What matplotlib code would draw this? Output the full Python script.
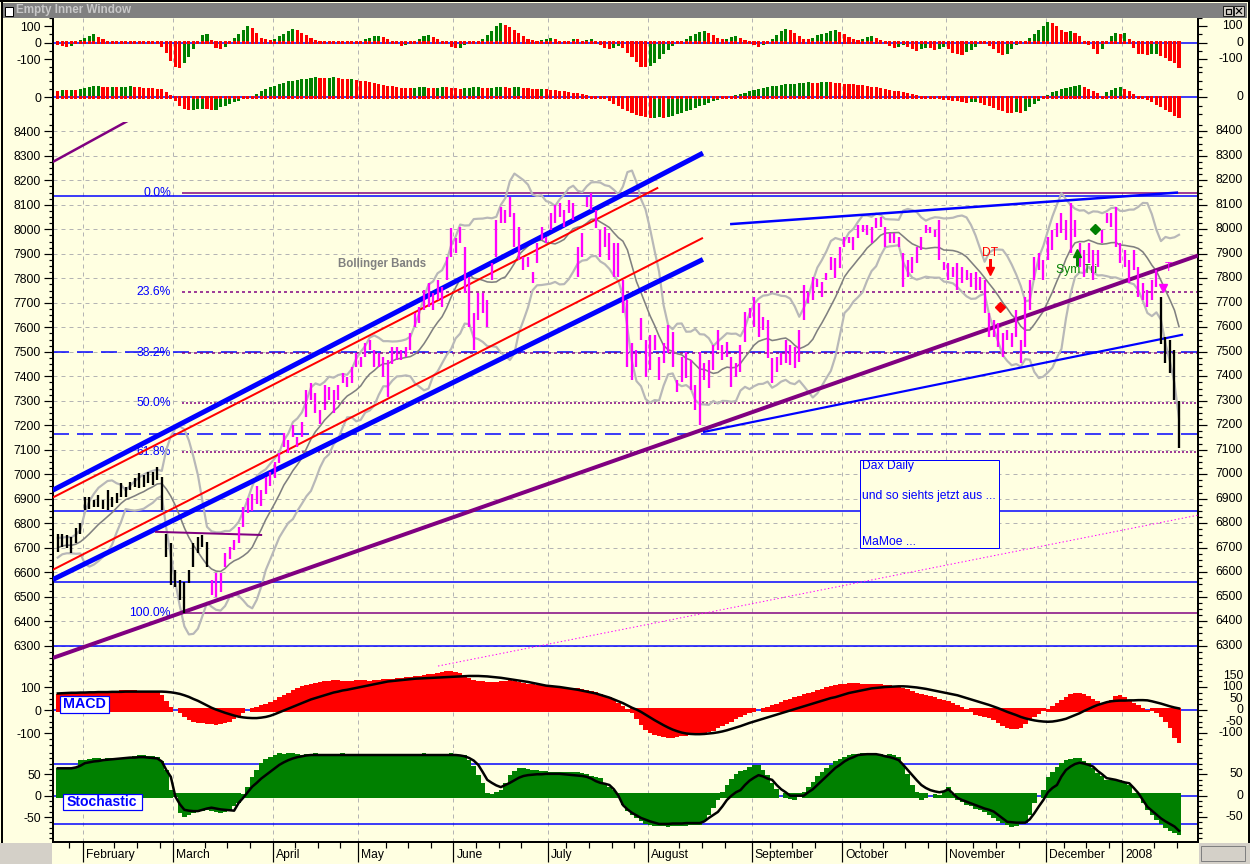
import numpy as np
import pandas as pd
import matplotlib
matplotlib.use("Agg")
import matplotlib.pyplot as plt
import matplotlib.transforms as mtrans
from matplotlib.patches import Rectangle

plt.rcParams['font.family'] = ['Liberation Sans', 'DejaVu Sans']
plt.rcParams['lines.scale_dashes'] = False

# ---------------- data ----------------
month_starts = [6, 26, 48, 67, 88, 109, 131, 154, 174, 197, 219, 236]
month_names = ["February", "March", "April", "May", "June", "July", "August",
               "September", "October", "November", "December", "2008"]

# mid prices of the days before the first visible bar (band warm-up)
jan_warmup = [6660, 6690, 6720, 6700, 6680, 6730, 6710, 6690, 6700]

hi = [6758, 6758, 6752, 6745, 6779, 6799, 6908, 6908, 6895, 6915,
      6895, 6935, 6908, 6922, 6963, 6949, 6970, 6983, 7004, 6997,
      7010, 7010, 7031, 6990, 6758, 6718, 6609, 6568, 6561, 6609,
      6718, 6745, 6752, 6725, 6568, 6595, 6595, 6677, 6704, 6731,
      6786, 6867, 6901, 6920, 6950, 6935, 6990, 7010, 7051, 7085,
      7167, 7139, 7201, 7153, 7214, 7344, 7371, 7330, 7262, 7364,
      7357, 7344, 7364, 7412, 7398, 7439, 7493, 7480, 7534, 7548,
      7507, 7493, 7480, 7466, 7521, 7521, 7507, 7521, 7575, 7657,
      7684, 7752, 7779, 7738, 7793, 7765, 7888, 8004, 7963, 8010,
      7929, 7806, 7657, 7738, 7738, 7711, 7861, 8038, 8092, 8078,
      8133, 8065, 8010, 7888, 7888, 7827, 7942, 8010, 7970, 8065,
      8099, 8106, 8078, 8119, 8106, 7929, 7983, 8133, 8147, 8078,
      7997, 8010, 7983, 7942, 7942, 7793, 7711, 7534, 7507, 7636,
      7548, 7568, 7568, 7480, 7534, 7609, 7582, 7384, 7480, 7500,
      7466, 7364, 7500, 7453, 7466, 7527, 7589, 7527, 7541, 7480,
      7453, 7527, 7664, 7677, 7725, 7698, 7643, 7630, 7473, 7480,
      7493, 7548, 7527, 7521, 7589, 7772, 7745, 7806, 7796, 7786,
      7820, 7888, 7881, 7929, 7970, 7970, 7970, 8017, 8017, 8017,
      8011, 8045, 8051, 8011, 7983, 7983, 7970, 7902, 7874, 7888,
      7929, 7970, 8017, 8011, 7997, 8038, 7868, 7861, 7847, 7861,
      7847, 7834, 7820, 7827, 7806, 7793, 7657, 7630, 7616, 7575,
      7589, 7575, 7670, 7548, 7725, 7793, 7888, 7902, 7874, 7970,
      7997, 8024, 8065, 8038, 8106, 8038, 7943, 7915, 7943, 7915,
      7915, 7997, 8065, 8065, 8092, 7943, 7915, 7874, 7915, 7847,
      7779, 7752, 7793, 7834, 7725, 7560, 7548, 7507, 7300]

lo = [6684, 6704, 6697, 6677, 6718, 6758, 6854, 6860, 6867, 6867,
      6860, 6854, 6867, 6881, 6908, 6908, 6935, 6949, 6942, 6949,
      6963, 6956, 6976, 6854, 6663, 6548, 6541, 6486, 6432, 6554,
      6622, 6677, 6704, 6622, 6507, 6500, 6520, 6622, 6656, 6690,
      6718, 6786, 6840, 6850, 6880, 6870, 6920, 6950, 6983, 7044,
      7112, 7085, 7153, 7112, 7153, 7235, 7303, 7248, 7207, 7262,
      7303, 7248, 7303, 7371, 7357, 7371, 7439, 7439, 7480, 7507,
      7439, 7439, 7398, 7316, 7452, 7466, 7466, 7480, 7507, 7602,
      7616, 7670, 7684, 7670, 7711, 7684, 7793, 7888, 7902, 7942,
      7738, 7602, 7507, 7629, 7657, 7602, 7793, 7888, 8024, 8024,
      8051, 7929, 7874, 7834, 7847, 7779, 7861, 7956, 7942, 7997,
      8024, 8051, 8010, 8065, 8038, 7806, 7888, 8092, 8078, 8004,
      7888, 7929, 7874, 7806, 7806, 7657, 7439, 7384, 7439, 7548,
      7398, 7425, 7507, 7384, 7453, 7493, 7439, 7337, 7378, 7391,
      7344, 7262, 7201, 7384, 7351, 7425, 7507, 7466, 7480, 7357,
      7398, 7418, 7541, 7636, 7602, 7562, 7589, 7473, 7371, 7418,
      7446, 7453, 7446, 7432, 7460, 7630, 7698, 7711, 7766, 7725,
      7793, 7834, 7800, 7841, 7929, 7943, 7915, 7963, 7990, 7977,
      7943, 8004, 8011, 7929, 7943, 7943, 7929, 7766, 7806, 7820,
      7861, 7915, 7983, 7983, 7970, 7874, 7834, 7793, 7806, 7752,
      7779, 7793, 7766, 7752, 7752, 7657, 7561, 7561, 7521, 7480,
      7548, 7521, 7561, 7453, 7521, 7670, 7793, 7834, 7793, 7874,
      7915, 7970, 7983, 7956, 7902, 7970, 7847, 7806, 7861, 7793,
      7847, 7943, 8024, 8011, 7929, 7861, 7847, 7779, 7834, 7725,
      7711, 7684, 7711, 7766, 7530, 7453, 7412, 7303, 7106]

osc_fast = [-15, -20, -25, -20, -10, 14, 28, 38, 50, 35,
            20, 5, -3, 4, -8, -10, 8, 12, 10, 6,
            -4, -2, 3, -25, -64, -110, -150, -156, -125, -90,
            -40, 10, 45, 50, 15, -30, -36, -25, 5, 30,
            55, 80, 104, 90, 60, 30, 25, 18, 22, 40,
            55, 70, 84, 75, 60, 45, 30, 15, 5, -5,
            -10, -8, 0, -5, -10, -5, 5, 10, 20, 30,
            38, 42, 35, 20, 5, -10, -20, -15, -5, 10,
            25, 40, 45, 35, 20, 5, -10, -25, -35, -30,
            -15, 0, 10, 5, 20, 45, 70, 100, 120, 110,
            95, 80, 60, 40, 25, 15, 10, 15, 25, 30,
            20, 5, -5, 10, 25, 20, 5, 15, 20, 5,
            -15, -30, -40, -30, -20, -35, -60, -90, -120, -145,
            -150, -140, -125, -100, -70, -45, -20, -5, 10, 25,
            40, 55, 65, 70, 60, 45, 30, 20, 25, 35,
            40, 30, 15, 0, -15, -25, -15, 0, 20, 45,
            70, 85, 80, 60, 40, 25, 20, 30, 45, 55,
            60, 70, 75, 65, 50, 35, 20, 15, 25, 35,
            40, 30, 15, -5, -20, -30, -25, -15, -25, -40,
            -50, -40, -30, -35, -45, -40, -25, -40, -60, -70,
            -76, -55, -45, -25, -10, -3, -20, -40, -60, -76,
            -70, -40, -15, 5, 10, 30, 55, 80, 104, 128,
            120, 104, 80, 64, 70, 60, 40, 10, -15, -40,
            -66, -40, 10, 40, 60, 55, 60, 20, -30, -66,
            -70, -76, -70, -66, -80, -94, -110, -124, -154]

osc_slow = [40, 44, 42, 46, 44, 48, 55, 60, 66, 68,
            64, 62, 63, 60, 62, 64, 66, 62, 60, 58,
            56, 54, 52, 50, 30, 14, -20, -50, -70, -76,
            -74, -72, -70, -72, -76, -74, -60, -50, -40, -30,
            -20, -10, -5, 5, 20, 35, 50, 60, 70, 80,
            88, 95, 100, 104, 108, 112, 116, 120, 118, 115,
            118, 120, 116, 112, 108, 110, 104, 100, 95, 90,
            85, 80, 75, 70, 65, 60, 58, 55, 55, 58,
            60, 62, 58, 55, 58, 62, 60, 58, 55, 52,
            55, 58, 60, 62, 58, 55, 58, 60, 62, 60,
            58, 60, 62, 58, 55, 52, 50, 52, 48, 45,
            42, 40, 36, 32, 28, 25, 20, 15, 10, 5,
            0, -10, -25, -40, -55, -70, -85, -95, -105, -115,
            -120, -125, -122, -118, -125, -120, -110, -100, -95, -85,
            -75, -65, -55, -45, -35, -25, -15, -8, -2, 5,
            12, 20, 28, 35, 42, 48, 55, 60, 65, 70,
            75, 78, 80, 82, 85, 88, 90, 88, 86, 90,
            92, 90, 86, 84, 82, 80, 78, 75, 72, 68,
            64, 60, 55, 50, 45, 40, 35, 30, 25, 20,
            15, 10, 5, 0, -5, -10, -15, -16, -20, -25,
            -30, -34, -30, -28, -34, -45, -55, -65, -75, -85,
            -92, -96, -90, -96, -80, -60, -40, -20, 0, 15,
            30, 40, 48, 55, 62, 68, 74, 62, 50, 38,
            25, 10, 30, 45, 55, 60, 50, 35, 20, 8,
            0, -15, -30, -45, -60, -75, -90, -110, -126]

macd_hist = [70, 72, 74, 75, 73, 72, 74, 76, 78, 80,
             78, 80, 82, 84, 85, 86, 87, 86, 84, 82,
             80, 78, 80, 65, 40, 15, 0, -15, -30, -42,
             -50, -55, -58, -60, -62, -63, -62, -58, -50, -38,
             -25, -12, 0, 8, 15, 22, 28, 35, 45, 55,
             65, 75, 85, 95, 105, 110, 115, 118, 122, 126,
             128, 130, 130, 128, 126, 128, 130, 132, 130, 128,
             130, 132, 134, 135, 136, 138, 140, 142, 145, 148,
             150, 152, 155, 158, 160, 165, 168, 170, 166, 160,
             150, 140, 132, 128, 125, 122, 120, 122, 125, 128,
             130, 126, 122, 118, 115, 112, 110, 108, 106, 104,
             102, 100, 98, 96, 95, 94, 92, 88, 84, 78,
             70, 62, 55, 45, 32, 18, 5, -15, -40, -65,
             -85, -100, -110, -115, -118, -120, -120, -118, -115, -112,
             -110, -108, -105, -100, -95, -90, -80, -70, -60, -50,
             -40, -30, -22, -15, -8, 0, 8, 14, 20, 28,
             35, 42, 48, 55, 62, 68, 74, 80, 86, 92,
             98, 104, 108, 112, 115, 117, 118, 116, 114, 112,
             112, 114, 112, 110, 108, 105, 100, 95, 90, 82,
             75, 70, 65, 60, 55, 50, 45, 40, 32, 22,
             15, 5, -10, -20, -28, -32, -35, -45, -55, -68,
             -80, -84, -84, -78, -60, -45, -30, -18, -5, 5,
             18, 32, 45, 58, 68, 73, 75, 70, 60, 50,
             40, 32, 30, 45, 62, 65, 58, 45, 30, 20,
             10, 2, -5, -15, -30, -50, -80, -120, -142]

macd_sig = [72, 73, 74, 75, 75, 76, 76, 77, 77, 78,
            78, 78, 79, 79, 79, 80, 80, 80, 80, 80,
            80, 80, 80, 80, 79, 77, 74, 70, 64, 57,
            48, 40, 30, 20, 10, 2, -5, -12, -18, -24,
            -29, -32, -34, -35, -35, -33, -30, -25, -18, -10,
            -2, 6, 14, 22, 30, 38, 46, 52, 58, 64,
            70, 76, 80, 85, 88, 92, 96, 100, 104, 108,
            112, 116, 120, 124, 126, 128, 130, 132, 134, 136,
            137, 138, 139, 140, 141, 142, 143, 144, 145, 146,
            147, 148, 148, 148, 147, 146, 144, 142, 140, 137,
            134, 131, 128, 125, 122, 118, 114, 110, 106, 104,
            102, 100, 97, 94, 91, 88, 84, 80, 76, 72,
            66, 60, 54, 46, 38, 30, 20, 10, 2, -8,
            -20, -32, -44, -55, -66, -76, -85, -92, -98, -102,
            -104, -105, -105, -104, -102, -100, -97, -93, -88, -82,
            -76, -70, -63, -56, -50, -44, -38, -32, -26, -20,
            -14, -8, -2, 4, 10, 16, 22, 28, 34, 40,
            46, 52, 56, 62, 68, 74, 78, 82, 86, 90,
            94, 96, 98, 100, 101, 102, 103, 103, 102, 100,
            98, 95, 92, 88, 84, 80, 76, 72, 68, 64,
            58, 52, 46, 40, 34, 28, 22, 15, 8, 0,
            -8, -15, -22, -30, -36, -41, -45, -48, -50, -51,
            -50, -47, -43, -38, -30, -22, -14, -4, 5, 14,
            22, 28, 34, 38, 40, 41, 41, 42, 42, 43,
            43, 42, 38, 33, 28, 22, 16, 11, 7]

stoch_hist = [64, 64, 65, 64, 66, 83, 84, 86, 87, 87,
              86, 87, 88, 87, 87, 88, 90, 92, 95, 94,
              93, 92, 91, 80, 60, 13, -3, -41, -49, -45,
              -40, -37, -35, -33, -35, -38, -41, -38, -33, -25,
              -17, 5, 21, 44, 60, 76, 85, 91, 95, 99,
              98, 99, 100, 98, 96, 97, 98, 99, 97, 96,
              95, 97, 98, 99, 97, 95, 96, 97, 98, 96,
              95, 97, 96, 94, 95, 97, 98, 96, 95, 97,
              98, 99, 97, 96, 95, 97, 98, 99, 97, 96,
              95, 83, 70, 48, 30, 6, 4, 8, 13, 30,
              48, 58, 65, 64, 62, 61, 60, 58, 57, 56,
              56, 55, 55, 55, 55, 55, 53, 50, 47, 44,
              41, 30, 20, 13, -5, -22, -35, -45, -52, -60,
              -65, -68, -70, -71, -71, -72, -71, -71, -70, -70,
              -69, -68, -68, -58, -45, -28, -10, 8, 25, 40,
              50, 58, 60, 66, 72, 72, 60, 48, 30, 15,
              0, -5, -8, -10, -2, 8, 20, 32, 45, 55,
              65, 72, 80, 85, 90, 95, 97, 98, 99, 100,
              99, 98, 97, 96, 97, 96, 90, 72, 50, 25,
              8, -10, -5, 0, 5, 2, 10, 21, 5, -10,
              -15, -21, -25, -30, -33, -38, -45, -52, -58, -64,
              -68, -72, -70, -67, -64, -45, -17, 0, 13, 44,
              56, 68, 76, 83, 86, 87, 87, 82, 76, 64,
              52, 45, 37, 37, 37, 37, 30, 25, 6, -5,
              -17, -33, -45, -57, -66, -76, -82, -88, -91]

stoch_sig = [64, 64, 64, 64, 66, 70, 76, 78, 80, 81,
             83, 84, 85, 86, 87, 88, 89, 89, 90, 90,
             89, 88, 87, 80, 60, 44, -2, -20, -33, -35,
             -36, -36, -33, -30, -28, -30, -32, -33, -34, -35,
             -17, -5, 8, 21, 30, 40, 48, 56, 64, 72,
             78, 83, 87, 90, 92, 94, 95, 95, 95, 95,
             95, 95, 95, 95, 95, 95, 95, 95, 95, 95,
             95, 95, 95, 95, 95, 95, 95, 95, 95, 95,
             95, 95, 95, 95, 95, 95, 95, 95, 95, 94,
             92, 88, 82, 72, 55, 37, 30, 24, 20, 25,
             30, 36, 42, 46, 48, 49, 50, 50, 51, 51,
             51, 51, 50, 49, 48, 47, 46, 44, 40, 34,
             30, 28, 25, 15, 0, -22, -32, -40, -46, -52,
             -56, -60, -63, -66, -66, -66, -65, -65, -65, -64,
             -64, -64, -64, -60, -52, -45, -38, -25, -10, 0,
             8, 13, 25, 35, 42, 48, 45, 40, 37, 25,
             15, 8, 0, 0, 0, 0, 8, 15, 25, 35,
             45, 55, 65, 72, 80, 86, 90, 95, 96, 97,
             97, 97, 95, 92, 90, 87, 83, 72, 60, 48,
             36, 25, 18, 13, 10, 8, 10, 15, 5, -5,
             -10, -14, -18, -22, -26, -30, -33, -37, -45, -53,
             -61, -62, -63, -63, -63, -55, -41, -25, -10, 8,
             18, 25, 45, 60, 68, 74, 77, 75, 72, 68,
             58, 50, 41, 39, 37, 34, 31, 29, 18, 6,
             -10, -26, -35, -44, -53, -60, -66, -72, -82]

N = len(hi)
for s in (lo, osc_fast, osc_slow, macd_hist, macd_sig, stoch_hist, stoch_sig):
    assert len(s) == N, len(s)

# retracement between the July high and the March low
fib_high, fib_low = 8150, 6433
fib_levels = [0.0, 23.6, 38.2, 50.0, 61.8, 100.0]
fib_start = 27.5
blue_levels = [8135, 6850, 6559, 6300]
blue_dash_levels = [7500, 7163]
stoch_bounds = [73.4, -66.8]

# drawn trend lines: (bar0, price0, bar1, price1, colour, width px, style)
trend_lines = [
    (-1.1, 6935, 142.7, 8311, '#0000ff', 5.0, '-'),
    (-1.1, 6570, 142.7, 7877, '#0000ff', 5.0, '-'),
    (-1.1, 6905, 132.8, 8170, '#ff0000', 2.0, '-'),
    (-1.1, 6610, 142.7, 7965, '#ff0000', 2.0, '-'),
    (-1.1, 6250, 252.2, 7893, '#800080', 4.0, '-'),
    (-1.1, 8275, 18.2, 8470, '#800080', 2.5, '-'),
    (142.7, 7172, 248.9, 7570, '#0000ff', 2.2, '-'),
    (148.7, 8021, 247.8, 8150, '#0000ff', 2.5, '-'),
    (84.1, 6217, 252.2, 6833, '#ff00ff', 1.0, ':'),
    (21.5, 6765, 45.2, 6752, '#800080', 2.0, '-'),
]

# ---------------- figure ----------------
W, H, DPI = 1250, 864, 100
X0, X1 = 53, 1198
XL = (-1.06, 252.2)
BG = '#ffffe1'
BLUE, RED, GREEN, PURPLE = '#0000ff', '#ff0000', '#008000', '#800080'
GRIDC = '#b4b4b4'
FS = 8.7


def pt(px):
    return px * 72 / DPI


fig = plt.figure(figsize=(W / DPI, H / DPI), dpi=DPI)
fig.patch.set_facecolor(BG)
x = np.arange(N)


def panel(top, bottom, ylim):
    ax = fig.add_axes([X0 / W, 1 - bottom / H, (X1 - X0) / W, (bottom - top) / H])
    ax.set_facecolor(BG)
    ax.set_xlim(*XL)
    ax.set_ylim(*ylim)
    for s in ('top', 'bottom'):
        ax.spines[s].set_visible(False)
    for s in ('left', 'right'):
        ax.spines[s].set_linewidth(pt(2))
    ax.set_xticks([])
    ax.tick_params(axis='y', which='both', left=True, right=True, direction='out',
                   width=pt(1.2), labelsize=FS, pad=pt(3))
    ax.tick_params(axis='y', which='major', length=pt(9))
    ax.tick_params(axis='y', which='minor', length=pt(4))
    for m in month_starts:
        ax.axvline(m - 0.5, color=GRIDC, lw=pt(1), ls=(0, (pt(4), pt(4))), zorder=0)
    return ax


def label_axis(ax, left, right, minor):
    ax.set_yticks(left)
    ax.set_yticklabels([str(v) for v in left])
    ax.set_yticks(minor, minor=True)
    tr = mtrans.blended_transform_factory(fig.transFigure, ax.transData)
    for v in right:
        ax.text(1243 / W, v, str(v), transform=tr, ha='right', va='center', fontsize=FS)


def updown(vals):
    v = np.asarray(vals, dtype=float)
    return np.where(np.diff(v, prepend=v[0] + 1) > 0, GREEN, RED)


# --- two oscillator strips on top
ax1 = panel(18, 70, (-166, 145))
ax2 = panel(70, 122, (-148, 163))
for ax, vals in ((ax1, osc_fast), (ax2, osc_slow)):
    ax.axhline(0, color=BLUE, lw=pt(1.5), zorder=1)
    ax.bar(x, vals, width=0.68, color=updown(vals), lw=0, zorder=2)
    ax.bar(x, 18, bottom=-9, width=0.68, color=RED, lw=0, zorder=3)
label_axis(ax1, [100, 0, -100], [100, 0, -100], [150, 50, -50, -150])
label_axis(ax2, [0], [0], [150, 100, 50, -50, -100])

# --- price panel
axm = panel(122, 668, (6209, 8438))
label_axis(axm, list(range(6300, 8401, 100)), list(range(6300, 8401, 100)),
           list(np.arange(6225, 8438, 25)))
for v in range(6300, 8401, 100):
    axm.axhline(v, color=GRIDC, lw=pt(1), ls=(0, (pt(4), pt(4))), zorder=0)

for v in blue_levels:
    axm.axhline(v, color=BLUE, lw=pt(1.5), zorder=2)
for v in blue_dash_levels:
    axm.axhline(v, color=BLUE, lw=pt(1.5), ls=(0, (pt(16), pt(8))), zorder=2)

fib_styles = ['-', (0, (pt(3), pt(3))), (0, (pt(3), pt(3))),
              (0, (pt(2), pt(2))), (0, (pt(2), pt(2))), '-']
for lev, st in zip(fib_levels, fib_styles):
    y = fib_high - (fib_high - fib_low) * lev / 100
    axm.hlines(y, fib_start, XL[1], colors=PURPLE, lw=pt(1.5), linestyles=[st], zorder=2)
    axm.text(25.0, y, f"{lev:.1f}%", color=BLUE, ha='right', va='center', fontsize=FS, zorder=3)

# Bollinger bands (10 bars, 2 sd) on the bar mid price
mid = pd.Series(jan_warmup + list((np.array(hi) + np.array(lo)) / 2))
ma = mid.rolling(10).mean().to_numpy()[len(jan_warmup):]
sd = mid.rolling(10).std(ddof=0).to_numpy()[len(jan_warmup):]
axm.plot(x, ma + 2 * sd, color='#b8b8b8', lw=pt(2.2), zorder=3)
axm.plot(x, ma - 2 * sd, color='#b8b8b8', lw=pt(2.2), zorder=3)
axm.plot(x, ma, color='#808080', lw=pt(1.6), zorder=3)

for x0, y0, x1, y1, c, w, st in trend_lines:
    axm.plot([x0, x1], [y0, y1], color=c, lw=pt(w), ls=st, solid_capstyle='butt', zorder=4)

bar_col = ['black' if (i < 34 or i >= 244) else '#ff00ff' for i in range(N)]
axm.vlines(x, lo, hi, colors=bar_col, lw=pt(2.3), zorder=5)

axm.text(71.7, 7858, "Bollinger Bands", color='#808080', fontsize=8.3,
         fontweight='bold', ha='center', va='center', zorder=6)
axm.text(206.2, 7903, "DT", color=RED, fontsize=FS, ha='center', va='center', zorder=6)
axm.plot([206.2, 206.2], [7875, 7835], color=RED, lw=pt(3), zorder=6)
axm.plot(206.2, 7830, marker='v', ms=pt(8), color=RED, mec=RED, zorder=6)
axm.plot(208.4, 7683, marker='D', ms=pt(7), color=RED, mec=RED, zorder=6)
axm.plot(229.4, 8001, marker='D', ms=pt(7), color=GREEN, mec=GREEN, zorder=6)
axm.plot([225.4, 225.4], [7858, 7898], color=GREEN, lw=pt(3), zorder=6)
axm.plot(225.4, 7905, marker='^', ms=pt(8), color=GREEN, mec=GREEN, zorder=6)
axm.text(220.8, 7834, "Sym Tri", color=GREEN, fontsize=FS, ha='left', va='center', zorder=4)
axm.plot(244.5, 7760, marker='v', ms=pt(8), color='#ff00ff', mec='#ff00ff', zorder=6)
axm.text(245.6, 7842, "T", color='#ff00ff', fontsize=FS, ha='center', va='center', zorder=6)

# --- MACD
axd = panel(668, 748, (-165, 182.6))
label_axis(axd, [100, 0, -100], [150, 100, 50, 0, -50, -100],
           [175, 150, 125, 75, 50, 25, -25, -50, -75, -125, -150])
axd.axhline(0, color=BLUE, lw=pt(1.5), zorder=1)
mh = np.asarray(macd_hist, dtype=float)
axd.bar(x, mh + np.sign(mh) * 8, bottom=-np.sign(mh) * 8, width=1.0, color=RED, lw=0, zorder=2)
axd.plot(x, macd_sig, color='black', lw=pt(2.5), zorder=3)

# --- Stochastic
axs = panel(748, 842.3, (-108.9, 111.4))
label_axis(axs, [50, 0, -50], [50, 0, -50],
           list(np.arange(-100, 111, 12.5)))
axs.axhline(0, color=BLUE, lw=pt(1.5), zorder=1)
for v in stoch_bounds:
    axs.axhline(v, color=BLUE, lw=pt(1.5), zorder=1)
sh = np.asarray(stoch_hist, dtype=float)
axs.bar(x, sh + np.sign(sh) * 6, bottom=-np.sign(sh) * 6, width=1.0, color=GREEN, lw=0, zorder=2)
axs.plot(x, stoch_sig, color='black', lw=pt(2.5), zorder=3)

# date axis
axs.spines['bottom'].set_visible(True)
axs.spines['bottom'].set_linewidth(pt(2))
month_pos = [m - 0.5 for m in month_starts]
week_pos = [p for p in np.arange(2.5, 252, 5) if min(abs(p - q) for q in month_pos) > 2]
axs.set_xticks(month_pos)
axs.set_xticklabels([])
axs.set_xticks(week_pos, minor=True)
axs.tick_params(axis='x', which='major', direction='out', length=pt(20), width=pt(1.2), bottom=True)
axs.tick_params(axis='x', which='minor', direction='out', length=pt(6), width=pt(1.2), bottom=True)
tlab = mtrans.blended_transform_factory(axs.transData, fig.transFigure) + \
    mtrans.ScaledTranslation(3 / DPI, 0, fig.dpi_scale_trans)
for p, name in zip(month_pos, month_names):
    axs.text(p, 1 - 855 / H, name, transform=tlab, ha='left', va='center', fontsize=FS)

# --- window chrome and boxes (pixel overlay)
ov = fig.add_axes([0, 0, 1, 1], zorder=20)
ov.set_xlim(0, W)
ov.set_ylim(H, 0)
ov.axis('off')
ov.add_patch(Rectangle((3, 3), 1244, 14.5, fc='#808080', ec='none'))
ov.text(16, 10.5, "Empty Inner Window", color='#c8c8c8', fontsize=8.4, fontweight='bold', va='center')
ov.add_patch(Rectangle((5, 7), 8, 9, fc='white', ec='black', lw=pt(1)))
for bx in (1223, 1234):
    ov.add_patch(Rectangle((bx, 6), 10, 10, fc='#d4d0c8', ec='black', lw=pt(0.8)))
ov.add_patch(Rectangle((1225.5, 8.5), 5, 5, fc='none', ec='black', lw=pt(1.2)))
ov.plot([1236.5, 1241.5], [8.5, 13.5], color='black', lw=pt(1.2))
ov.plot([1236.5, 1241.5], [13.5, 8.5], color='black', lw=pt(1.2))
ov.plot([1.5, 1.5], [0, 842], color='black', lw=pt(2))
ov.plot([0, W], [1, 1], color='black', lw=pt(2))
ov.plot([1248.5, 1248.5], [0, 842], color='black', lw=pt(2))
ov.add_patch(Rectangle((0, 843), 52, 21, fc='#d4d0c8', ec='none'))
ov.add_patch(Rectangle((1199, 843), 51, 21, fc='#d4d0c8', ec='none'))
ov.add_patch(Rectangle((1201, 845.5), 44, 15, fc='#d4d0c8', ec='#808080', lw=pt(1)))

ov.add_patch(Rectangle((59.5, 696), 49.5, 16.5, fc='white', ec=BLUE, lw=pt(1.2)))
ov.text(84.3, 704.5, "MACD", color=BLUE, fontsize=10.3, fontweight='bold', ha='center', va='center')
ov.add_patch(Rectangle((62.7, 794), 79, 16, fc='white', ec=BLUE, lw=pt(1.2)))
ov.text(102.2, 802.2, "Stochastic", color=BLUE, fontsize=10.1, fontweight='bold', ha='center', va='center')

ov.add_patch(Rectangle((859.5, 459.5), 139.5, 88.5, fc=BG, ec=BLUE, lw=pt(1)))
for ty, txt in ((466, "Dax Daily"), (496, "und so siehts jetzt aus ..."), (542, "MaMoe ...")):
    ov.text(862.5, ty, txt, color=BLUE, fontsize=FS, ha='left', va='center')

fig.savefig("out.png", dpi=DPI, facecolor=fig.get_facecolor())
